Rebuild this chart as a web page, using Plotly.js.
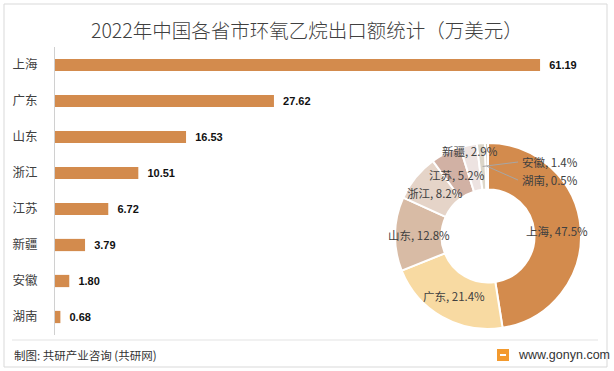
<!DOCTYPE html>
<html>
<head>
<meta charset="utf-8">
<script src="https://cdn.plot.ly/plotly-3.0.1.min.js"></script>
<style>html,body{margin:0;padding:0;background:#fff}#chart{width:614px;height:371px}</style>
</head>
<body>
<div id="chart"></div>
<script>
const provinces = ['上海','广东','山东','浙江','江苏','新疆','安徽','湖南'];
const exportValues = [61.19, 27.62, 16.53, 10.51, 6.72, 3.79, 1.80, 0.68];
const pieColors = ['#D38B4D','#F8DAA2','#D8BBA5','#E5D4C8','#D1B1A4','#EDE3E1','#DCD6C8','#CFC8B8'];
const barColor = '#D38B4D';
const titleText = '2022年中国各省市环氧乙烷出口额统计（万美元）';
const sourceText = '制图: 共研产业咨询 (共研网)';
const siteText = 'www.gonyn.com';

const W = 614, H = 371;
const cjk = '"Noto Sans CJK SC", "Microsoft YaHei", sans-serif';

// pie geometry (layout)
const pieCx = 488, pieCy = 236, pieR = 93, hole = 0.5;
const px = v => v / W, py = v => 1 - v / H;

const barTrace = {
  type: 'bar', orientation: 'h',
  y: provinces, x: exportValues,
  marker: {color: barColor},
  width: 0.34,
  texttemplate: '\u00a0\u00a0%{x:.2f}',
  textposition: 'outside',
  cliponaxis: false,
  textfont: {family: '"Liberation Sans", Arial, sans-serif', size: 11, color: '#111', weight: 'bold'},
  hoverinfo: 'skip',
  xaxis: 'x', yaxis: 'y'
};

const pieTrace = {
  type: 'pie',
  labels: provinces, values: exportValues,
  hole: hole, sort: false, direction: 'clockwise', rotation: 0,
  marker: {colors: pieColors, line: {color: '#ffffff', width: 2}},
  textinfo: 'none', showlegend: false, hoverinfo: 'skip',
  domain: {x: [px(pieCx - pieR), px(pieCx + pieR)], y: [py(pieCy + pieR), py(pieCy - pieR)]}
};

// pie labels computed from the data (mid-angle of each slice)
const total = exportValues.reduce((a, b) => a + b, 0);
const radialFactor = [0.74, 0.74, 0.74, 0.74, 0.74, 0.93, null, null];
const outsideLabelPos = {6: [32, -74], 7: [32, -56]};
const annotations = [];
const shapes = [];
let cum = 0;
exportValues.forEach((v, i) => {
  const frac = v / total;
  const mid = (cum + frac / 2) * 2 * Math.PI;
  cum += frac;
  const txt = provinces[i] + ', ' + (frac * 100).toFixed(1) + '%';
  if (radialFactor[i] !== null) {
    const r = pieR * radialFactor[i];
    annotations.push({
      xref: 'paper', yref: 'paper',
      x: px(pieCx + r * Math.sin(mid)), y: py(pieCy - r * Math.cos(mid)),
      text: txt, showarrow: false, xanchor: 'center', yanchor: 'middle',
      font: {family: cjk, size: 11.5, color: '#404040'}
    });
  } else {
    const r = pieR * 0.75;
    const sx = pieCx + r * Math.sin(mid), sy = pieCy - r * Math.cos(mid);
    const [dx, dy] = outsideLabelPos[i];
    const lx = pieCx + dx, ly = pieCy + dy;
    shapes.push({type: 'line', xref: 'paper', yref: 'paper',
      x0: px(sx), y0: py(sy), x1: px(lx - 2), y1: py(ly),
      line: {color: '#A6A6A6', width: 1}});
    annotations.push({
      xref: 'paper', yref: 'paper', x: px(lx), y: py(ly),
      text: txt, showarrow: false, xanchor: 'left', yanchor: 'middle',
      font: {family: cjk, size: 11.5, color: '#404040'}
    });
  }
});

// title / footer
annotations.push({xref: 'paper', yref: 'paper', x: px(307), y: py(30), text: titleText,
  showarrow: false, xanchor: 'center', yanchor: 'middle',
  font: {family: cjk, size: 19.5, color: '#404040', weight: 300}});
annotations.push({xref: 'paper', yref: 'paper', x: px(12), y: py(355), text: sourceText,
  showarrow: false, xanchor: 'left', yanchor: 'middle',
  font: {family: cjk, size: 11.5, color: '#333'}});
annotations.push({xref: 'paper', yref: 'paper', x: px(516), y: py(355), text: siteText,
  showarrow: false, xanchor: 'left', yanchor: 'middle',
  font: {family: '"Liberation Sans", Arial, sans-serif', size: 12.5, color: '#333'}});

// frame, separator, logo
shapes.push({type: 'rect', xref: 'paper', yref: 'paper', x0: px(4), x1: px(607), y0: py(367), y1: py(4),
  line: {color: '#D9D9D9', width: 1}, fillcolor: 'rgba(0,0,0,0)', layer: 'below'});
shapes.push({type: 'line', xref: 'paper', yref: 'paper', x0: px(12), x1: px(598), y0: py(340), y1: py(340),
  line: {color: '#E3E3E3', width: 1}});
shapes.push({type: 'rect', xref: 'paper', yref: 'paper', x0: px(497), x1: px(509), y0: py(361), y1: py(349),
  line: {width: 0}, fillcolor: '#F39A2E'});
shapes.push({type: 'rect', xref: 'paper', yref: 'paper', x0: px(500), x1: px(506), y0: py(356), y1: py(354),
  line: {width: 0}, fillcolor: '#ffffff'});

const layout = {
  width: W, height: H,
  margin: {l: 0, r: 0, t: 0, b: 0},
  paper_bgcolor: '#fff', plot_bgcolor: 'rgba(0,0,0,0)',
  showlegend: false,
  xaxis: {domain: [px(55), px(600)], range: [0, 68.75], visible: false, fixedrange: true},
  yaxis: {domain: [py(335), py(47)], autorange: 'reversed', type: 'category',
    showline: true, linecolor: '#D0D0D0', linewidth: 1, ticks: '', showgrid: false,
    ticklabelstandoff: 14,
    tickfont: {family: cjk, size: 12.5, color: '#404040'}},
  annotations: annotations,
  shapes: shapes
};

Plotly.newPlot('chart', [barTrace, pieTrace], layout, {displayModeBar: false, staticPlot: true});
</script>
</body>
</html>
